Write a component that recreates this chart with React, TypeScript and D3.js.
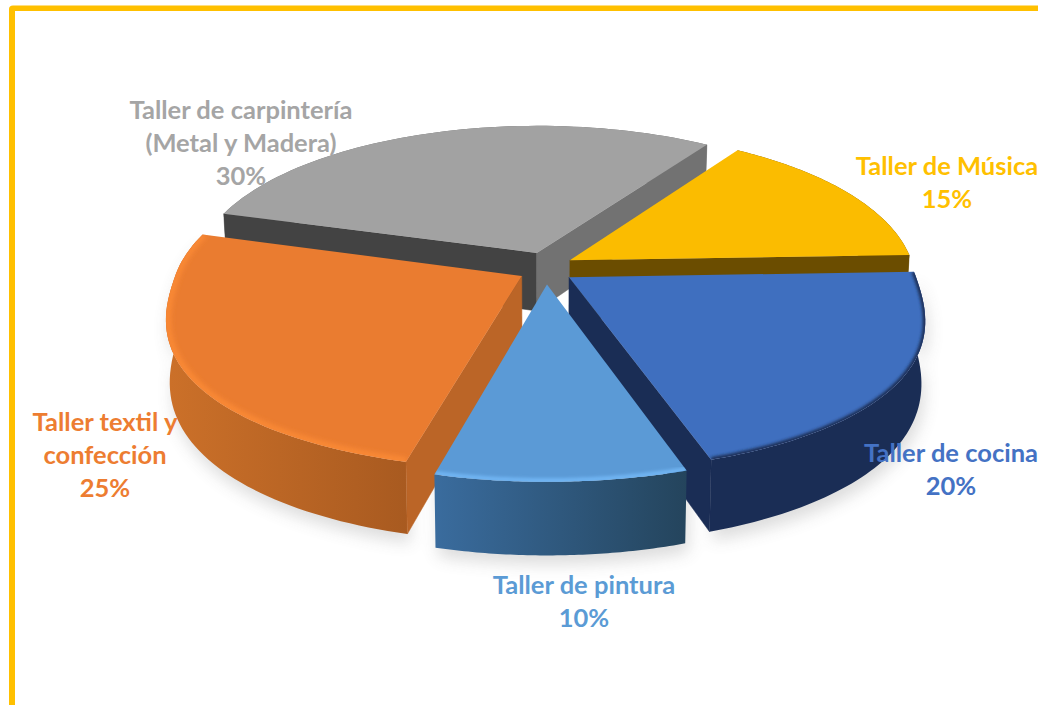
import React from "react";
import * as d3 from "d3";

const names = ["Taller de Música", "Taller de cocina", "Taller de pintura", "Taller textil y confección", "Taller de carpintería (Metal y Madera)"];
const shares = [15, 20, 10, 25, 30];
const labelLines = [
  ["Taller de Música", "15%"],
  ["Taller de cocina", "20%"],
  ["Taller de pintura", "10%"],
  ["Taller textil y", "confección", "25%"],
  ["Taller de carpintería", "(Metal y Madera)", "30%"],
];
const topColors = ["#fbbc00", "#3f6fbf", "#5b9ad6", "#ea7c30", "#a2a2a2"];
const labelColors = ["#ffc000", "#4472c4", "#5b9bd5", "#ed7d31", "#a5a5a5"];
const labelCenters = [947, 951, 584, 105, 241];
const labelBaselines = [175, 462, 594, 431, 119];

const W = 1038, H = 705;
const cx = 546, cy = 268, R = 344, K = 155, GY = 0.18, GX = 0.148, EX = 0.08, EY = 0.105, DEPTH = 59, FULL = 0.78;
const rad = Math.PI / 180;

const project = (X: number, Y: number, z = 0): [number, number] => {
  const wx = 1 / (1 - GX * Y), wy = 1 / (1 - GY * Y);
  return [cx + R * X * wx * (z ? 0.99 : 1), cy + K * Y * wy + z * wy];
};

const arcs = d3.pie<number>().sort(null).startAngle(34 * rad).endAngle(394 * rad)(shares);
const line = d3.line<[number, number]>();

function slicePts(i: number, z: number) {
  const a = arcs[i];
  const m = (a.startAngle + a.endAngle) / 2;
  const ox = EX * Math.sin(m), oy = -EY * Math.cos(m);
  const at = (t: number, r = 1) => {
    const c = -Math.cos(t);
    const yy = c > 0 ? Math.pow(c, FULL) : c;
    return project(ox + r * Math.sin(t), oy + r * yy, z);
  };
  const ts = d3.range(0, 61).map((n) => a.startAngle + ((a.endAngle - a.startAngle) * n) / 60);
  return { apex: project(ox, oy, z), arc: (r = 1) => ts.map((t) => at(t, r)) };
}

const topPath = (i: number) => {
  const s = slicePts(i, 0);
  return line([s.apex, ...s.arc()])! + "Z";
};
const arcPath = (i: number, r = 1) => line(slicePts(i, 0).arc(r))!;
const wallOuter = (i: number) => {
  const t = slicePts(i, 0).arc(), b = slicePts(i, DEPTH).arc();
  return line([...t, ...b.reverse()])! + "Z";
};
const wallCut = (i: number, end: "start" | "end") => {
  const t = slicePts(i, 0), b = slicePts(i, DEPTH);
  const ta = t.arc(), ba = b.arc();
  const tp = end === "start" ? ta[0] : ta[ta.length - 1];
  const bp = end === "start" ? ba[0] : ba[ba.length - 1];
  return line([t.apex, tp, bp, b.apex])! + "Z";
};

const Slice = ({ i, outer, cuts, rim, rimW, rimR, filter }: any) => (
  <g>
    <path d={wallOuter(i)} fill={outer} />
    {cuts.map(([end, color]: [any, string]) => (
      <path key={end} d={wallCut(i, end)} fill={color} stroke={color} strokeWidth={0.5} />
    ))}
    <path d={topPath(i)} fill={topColors[i]} />
    {rim && (
      <g clipPath={`url(#clip${i})`}>
        <path d={arcPath(i, rimR)} fill="none" stroke={rim} strokeWidth={rimW} filter={`url(#${filter})`} />
      </g>
    )}
  </g>
);

export default function App() {
  return (
    <svg width={W} height={H} viewBox={`0 0 ${W} ${H}`} style={{ position: "absolute", left: 0, top: 0, background: "#fff" }}
      fontFamily="Lato, 'Open Sans', sans-serif" fontWeight={700} role="img" aria-label={names.join(", ")}>
      <defs>
        <filter id="soft" x="-20%" y="-20%" width="140%" height="140%"><feGaussianBlur stdDeviation="1.6" /></filter>
        <filter id="softer" x="-20%" y="-20%" width="140%" height="140%"><feGaussianBlur stdDeviation="2.6" /></filter>
        <filter id="shadow" x="-20%" y="-20%" width="140%" height="140%"><feGaussianBlur stdDeviation="8" /></filter>
        <linearGradient id="orangeWall" gradientUnits="userSpaceOnUse" x1="170" x2="410" y1="0" y2="0">
          <stop offset="0" stopColor="#cb7029" /><stop offset="1" stopColor="#a85a20" />
        </linearGradient>
        <linearGradient id="blueWall" gradientUnits="userSpaceOnUse" x1="434" x2="688" y1="0" y2="0">
          <stop offset="0" stopColor="#3a6c9e" /><stop offset="1" stopColor="#24445c" />
        </linearGradient>
        {[1, 2, 3].map((i) => (
          <clipPath key={i} id={`clip${i}`}><path d={topPath(i)} /></clipPath>
        ))}
      </defs>

      <path d={`M9 705V9Q9 5.500 13 5.500H${W}V11H15V705Z`} fill="#ffc000" />

      <g transform="translate(3,9)" filter="url(#shadow)" opacity={0.2} fill="#555">
        {[1, 2, 3].map((i) => <path key={i} d={wallOuter(i)} />)}
      </g>

      <Slice i={4} outer="#6e6e6e" cuts={[["start", "#434343"], ["end", "#727272"]]} />
      <Slice i={0} outer="#6b4d00" cuts={[["end", "#6b4d00"]]} />
      <Slice i={3} outer="url(#orangeWall)" cuts={[["start", "#bb6527"]]} rim="#fb8a36" rimW={6} rimR={0.995} filter="softer" />
      <Slice i={1} outer="#1a2d55" cuts={[["end", "#1a2d55"]]} rim="#1a2d55" rimW={5} rimR={1} filter="soft" />
      <Slice i={2} outer="url(#blueWall)" cuts={[]} rim="#70b4f2" rimW={5} rimR={0.995} filter="soft" />

      {labelLines.map((ls, i) => (
        <text key={i} textAnchor="middle" fontSize={25.5} fill={labelColors[i]}>
          {ls.map((l, j) => (
            <tspan key={j} x={labelCenters[i]} y={labelBaselines[i] + j * 33}>{l}</tspan>
          ))}
        </text>
      ))}
    </svg>
  );
}
